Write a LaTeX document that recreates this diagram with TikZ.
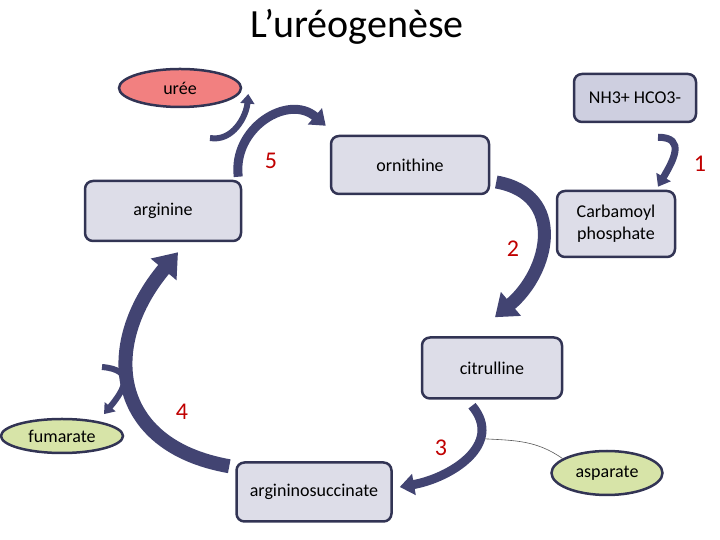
\documentclass[tikz,border=0pt]{standalone}
\usepackage{fontspec}
\setmainfont{Carlito}
\usetikzlibrary{arrows.meta,positioning,calc,shapes.geometric}
\definecolor{boxline}{RGB}{50,52,84}
\definecolor{boxfill}{RGB}{221,221,232}
\definecolor{boxdark}{RGB}{206,207,224}
\definecolor{arrblue}{RGB}{66,68,114}
\definecolor{numred}{RGB}{192,0,0}
\definecolor{ureared}{RGB}{242,128,128}
\definecolor{sidegreen}{RGB}{215,228,168}
\tikzset{
  ttl/.style={font=\fontsize{40}{48}\selectfont},
  blk/.style={draw=boxline, fill=boxfill, line width=2.5pt, rounded corners=8pt,
              inner sep=2pt, align=center, font=\fontsize{18}{22}\selectfont},
  oval/.style={ellipse, draw=boxline, line width=2.5pt, inner sep=0pt,
               font=\fontsize{18}{22}\selectfont},
  num/.style={text=numred, font=\fontsize{24}{28}\selectfont},
  carr/.style={arrblue, line width=#1, -{Triangle[length=0pt 1.6, width=0pt 2.3]}},
  carr/.default=6pt,
  side/.style={gray!70!black, line width=0.6pt},
}
\begin{document}
\begin{tikzpicture}[x=1pt, y=1pt]
  \useasboundingbox (0,0) rectangle (720,540);
  \node[ttl] (title) at (357,513) {L’uréogenèse};
  % molecules
  \node[oval, fill=ureared, minimum width=122pt, minimum height=38pt] (uree) at (180,452) {urée};
  \node[blk, fill=boxdark, minimum width=122pt, minimum height=48pt] (nh3) at (635,442) {NH3+ HCO3-};
  \node[blk, minimum width=158pt, minimum height=58pt] (orn) at (410,375) {ornithine};
  \node[blk, minimum width=156pt, minimum height=60pt] (arg) at (163,329) {arginine};
  \node[blk, minimum width=118pt, minimum height=66pt] (carb) at (616,316) {Carbamoyl\\phosphate};
  \node[blk, minimum width=140pt, minimum height=61pt] (cit) at (492,172) {citrulline};
  \node[oval, fill=sidegreen, minimum width=122pt, minimum height=34pt] (fum) at (62,104) {fumarate};
  \node[blk, minimum width=155pt, minimum height=59pt] (asuc) at (314,48) {argininosuccinate};
  \node[oval, fill=sidegreen, minimum width=111pt, minimum height=44pt] (asp) at (607,67) {asparate};
  % steps
  \node[num] (n1) at (700,376) {1};
  \node[num] (n2) at (513,291) {2};
  \node[num] (n3) at (441,92) {3};
  \node[num] (n4) at (182,128) {4};
  \node[num] (n5) at (271,379) {5};
  \coordinate (ut) at (210,402);
  \coordinate (ft) at (102,173);
  % reactions
  \draw[carr=7pt] ([shift={(23,-14)}]nh3.south) to[out=0, in=60, looseness=1.5] ([shift={(42,3)}]carb.north);
  \draw[carr=13pt] ([shift={(6,-17)}]orn.east) to[out=-10, in=40, looseness=1.35] ([shift={(3,19)}]cit.north);
  \draw[carr=9pt] ([shift={(-20,-6)}]cit.south) to[out=-50, in=10, looseness=1.2]
    coordinate[pos=0.3] (c3) ([shift={(7,5)}]asuc.east);
  \draw[side] ([xshift=4pt]c3) to[out=-3, in=145] (asp.162);
  \draw[carr=14pt] ([shift={(-6,-5)}]asuc.north west) to[out=170, in=-130, looseness=1.4] ([shift={(15,-10)}]arg.south);
  \draw[carr=6pt] (ft) to[out=-5, in=50, looseness=1.8] ([shift={(-2,9)}]fum.north east);
  \draw[carr=6pt] (ut) to[out=-10, in=-95] ([shift={(6,-6)}]uree.east);
  \draw[carr=9pt] ([shift={(-4,3)}]arg.north east) to[out=97, in=139, looseness=1.25] ([shift={(-4,9)}]orn.north west);
\end{tikzpicture}
\end{document}
